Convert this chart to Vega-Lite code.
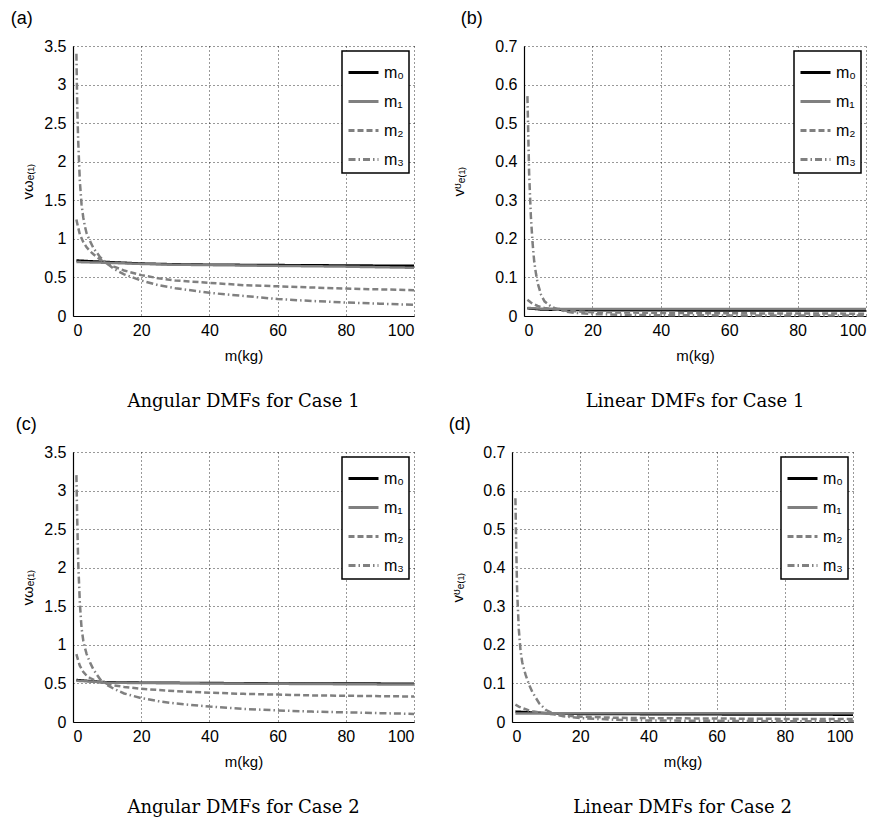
{
  "$schema": "https://vega.github.io/schema/vega-lite/v6.json",
  "padding": {"left": 10, "top": 10, "right": 5, "bottom": 0},
  "background": "white",
  "config": {
    "font": "Liberation Sans",
    "view": {"stroke": null},
    "axis": {
      "domainColor": "black", "domainWidth": 1.2,
      "labelColor": "black", "labelFontSize": 16, "labelFont": "Liberation Sans",
      "titleColor": "black", "titleFontSize": 15, "titleFontWeight": "normal", "titleFont": "Liberation Sans",
      "gridColor": "black", "gridDash": [1, 3], "gridOpacity": 0.8, "gridWidth": 1,
      "ticks": false
    },
    "axisX": {"labelPadding": 6, "titlePadding": 10},
    "axisY": {"labelPadding": 7},
    "legend": {
      "orient": "top-right", "offset": 5, "strokeColor": "black", "strokeWidth": 1.5,
      "fillColor": "white", "padding": 5, "title": null,
      "labelFontSize": 16, "labelColor": "black", "labelFont": "Liberation Sans",
      "symbolType": "stroke", "symbolStrokeWidth": 3, "symbolSize": 900, "rowPadding": 4
    },
    "title": {"color": "black", "fontWeight": "normal"}
  },
  "datasets": {
    "a": [
      {"s":"m₀","m":1,"v":0.72},{"s":"m₀","m":5,"v":0.71},{"s":"m₀","m":10,"v":0.70},{"s":"m₀","m":20,"v":0.68},{"s":"m₀","m":30,"v":0.67},{"s":"m₀","m":40,"v":0.665},{"s":"m₀","m":60,"v":0.66},{"s":"m₀","m":80,"v":0.655},{"s":"m₀","m":100,"v":0.65},
      {"s":"m₁","m":1,"v":0.70},{"s":"m₁","m":5,"v":0.695},{"s":"m₁","m":10,"v":0.69},{"s":"m₁","m":20,"v":0.675},{"s":"m₁","m":30,"v":0.665},{"s":"m₁","m":40,"v":0.66},{"s":"m₁","m":60,"v":0.65},{"s":"m₁","m":80,"v":0.64},{"s":"m₁","m":100,"v":0.625},
      {"s":"m₂","m":1,"v":1.25},{"s":"m₂","m":1.5,"v":1.15},{"s":"m₂","m":2,"v":1.06},{"s":"m₂","m":3,"v":0.96},{"s":"m₂","m":4,"v":0.89},{"s":"m₂","m":5,"v":0.84},{"s":"m₂","m":6,"v":0.80},{"s":"m₂","m":8,"v":0.73},{"s":"m₂","m":10,"v":0.68},{"s":"m₂","m":12,"v":0.64},{"s":"m₂","m":15,"v":0.59},{"s":"m₂","m":20,"v":0.53},{"s":"m₂","m":25,"v":0.49},{"s":"m₂","m":30,"v":0.46},{"s":"m₂","m":40,"v":0.43},{"s":"m₂","m":50,"v":0.40},{"s":"m₂","m":60,"v":0.385},{"s":"m₂","m":70,"v":0.37},{"s":"m₂","m":80,"v":0.355},{"s":"m₂","m":90,"v":0.345},{"s":"m₂","m":100,"v":0.335},
      {"s":"m₃","m":1,"v":3.4},{"s":"m₃","m":1.25,"v":2.7},{"s":"m₃","m":1.5,"v":2.3},{"s":"m₃","m":2,"v":1.75},{"s":"m₃","m":2.5,"v":1.45},{"s":"m₃","m":3,"v":1.28},{"s":"m₃","m":3.5,"v":1.16},{"s":"m₃","m":4,"v":1.07},{"s":"m₃","m":5,"v":0.97},{"s":"m₃","m":6,"v":0.88},{"s":"m₃","m":8,"v":0.76},{"s":"m₃","m":10,"v":0.68},{"s":"m₃","m":12,"v":0.61},{"s":"m₃","m":15,"v":0.54},{"s":"m₃","m":20,"v":0.46},{"s":"m₃","m":25,"v":0.40},{"s":"m₃","m":30,"v":0.36},{"s":"m₃","m":40,"v":0.30},{"s":"m₃","m":50,"v":0.26},{"s":"m₃","m":60,"v":0.22},{"s":"m₃","m":70,"v":0.195},{"s":"m₃","m":80,"v":0.175},{"s":"m₃","m":90,"v":0.16},{"s":"m₃","m":100,"v":0.145}
    ],
    "b": [
      {"s":"m₀","m":1,"v":0.020},{"s":"m₀","m":5,"v":0.017},{"s":"m₀","m":10,"v":0.016},{"s":"m₀","m":20,"v":0.015},{"s":"m₀","m":50,"v":0.0145},{"s":"m₀","m":100,"v":0.014},
      {"s":"m₁","m":1,"v":0.021},{"s":"m₁","m":5,"v":0.019},{"s":"m₁","m":10,"v":0.0185},{"s":"m₁","m":20,"v":0.018},{"s":"m₁","m":50,"v":0.018},{"s":"m₁","m":100,"v":0.018},
      {"s":"m₂","m":1,"v":0.042},{"s":"m₂","m":2,"v":0.035},{"s":"m₂","m":3,"v":0.030},{"s":"m₂","m":4,"v":0.026},{"s":"m₂","m":5,"v":0.023},{"s":"m₂","m":6,"v":0.021},{"s":"m₂","m":8,"v":0.018},{"s":"m₂","m":10,"v":0.016},{"s":"m₂","m":12,"v":0.014},{"s":"m₂","m":15,"v":0.012},{"s":"m₂","m":20,"v":0.010},{"s":"m₂","m":30,"v":0.009},{"s":"m₂","m":40,"v":0.008},{"s":"m₂","m":60,"v":0.007},{"s":"m₂","m":80,"v":0.0065},{"s":"m₂","m":100,"v":0.006},
      {"s":"m₃","m":1,"v":0.57},{"s":"m₃","m":1.25,"v":0.47},{"s":"m₃","m":1.5,"v":0.37},{"s":"m₃","m":2,"v":0.26},{"s":"m₃","m":2.5,"v":0.19},{"s":"m₃","m":3,"v":0.14},{"s":"m₃","m":3.5,"v":0.11},{"s":"m₃","m":4,"v":0.085},{"s":"m₃","m":5,"v":0.055},{"s":"m₃","m":6,"v":0.038},{"s":"m₃","m":8,"v":0.024},{"s":"m₃","m":10,"v":0.017},{"s":"m₃","m":12,"v":0.012},{"s":"m₃","m":15,"v":0.008},{"s":"m₃","m":20,"v":0.005},{"s":"m₃","m":30,"v":0.003},{"s":"m₃","m":40,"v":0.002},{"s":"m₃","m":60,"v":0.0015},{"s":"m₃","m":80,"v":0.001},{"s":"m₃","m":100,"v":0.001}
    ],
    "c": [
      {"s":"m₀","m":1,"v":0.545},{"s":"m₀","m":5,"v":0.53},{"s":"m₀","m":10,"v":0.515},{"s":"m₀","m":20,"v":0.51},{"s":"m₀","m":40,"v":0.505},{"s":"m₀","m":60,"v":0.50},{"s":"m₀","m":80,"v":0.50},{"s":"m₀","m":100,"v":0.495},
      {"s":"m₁","m":1,"v":0.535},{"s":"m₁","m":5,"v":0.525},{"s":"m₁","m":10,"v":0.51},{"s":"m₁","m":20,"v":0.505},{"s":"m₁","m":40,"v":0.50},{"s":"m₁","m":60,"v":0.495},{"s":"m₁","m":80,"v":0.49},{"s":"m₁","m":100,"v":0.485},
      {"s":"m₂","m":1,"v":0.88},{"s":"m₂","m":1.5,"v":0.80},{"s":"m₂","m":2,"v":0.73},{"s":"m₂","m":3,"v":0.65},{"s":"m₂","m":4,"v":0.60},{"s":"m₂","m":5,"v":0.57},{"s":"m₂","m":6,"v":0.55},{"s":"m₂","m":8,"v":0.515},{"s":"m₂","m":10,"v":0.495},{"s":"m₂","m":12,"v":0.475},{"s":"m₂","m":15,"v":0.455},{"s":"m₂","m":20,"v":0.43},{"s":"m₂","m":30,"v":0.40},{"s":"m₂","m":40,"v":0.38},{"s":"m₂","m":50,"v":0.365},{"s":"m₂","m":60,"v":0.355},{"s":"m₂","m":70,"v":0.345},{"s":"m₂","m":80,"v":0.34},{"s":"m₂","m":90,"v":0.335},{"s":"m₂","m":100,"v":0.33},
      {"s":"m₃","m":1,"v":3.2},{"s":"m₃","m":1.25,"v":2.6},{"s":"m₃","m":1.5,"v":2.1},{"s":"m₃","m":2,"v":1.55},{"s":"m₃","m":2.5,"v":1.22},{"s":"m₃","m":3,"v":1.06},{"s":"m₃","m":3.5,"v":0.96},{"s":"m₃","m":4,"v":0.88},{"s":"m₃","m":5,"v":0.77},{"s":"m₃","m":6,"v":0.68},{"s":"m₃","m":8,"v":0.55},{"s":"m₃","m":10,"v":0.48},{"s":"m₃","m":12,"v":0.43},{"s":"m₃","m":15,"v":0.37},{"s":"m₃","m":20,"v":0.31},{"s":"m₃","m":25,"v":0.27},{"s":"m₃","m":30,"v":0.24},{"s":"m₃","m":40,"v":0.20},{"s":"m₃","m":50,"v":0.17},{"s":"m₃","m":60,"v":0.15},{"s":"m₃","m":70,"v":0.135},{"s":"m₃","m":80,"v":0.125},{"s":"m₃","m":90,"v":0.115},{"s":"m₃","m":100,"v":0.105}
    ],
    "d": [
      {"s":"m₀","m":1,"v":0.027},{"s":"m₀","m":5,"v":0.025},{"s":"m₀","m":10,"v":0.023},{"s":"m₀","m":20,"v":0.021},{"s":"m₀","m":50,"v":0.020},{"s":"m₀","m":100,"v":0.019},
      {"s":"m₁","m":1,"v":0.022},{"s":"m₁","m":5,"v":0.022},{"s":"m₁","m":10,"v":0.0225},{"s":"m₁","m":20,"v":0.023},{"s":"m₁","m":50,"v":0.023},{"s":"m₁","m":100,"v":0.023},
      {"s":"m₂","m":1,"v":0.045},{"s":"m₂","m":2,"v":0.040},{"s":"m₂","m":3,"v":0.036},{"s":"m₂","m":4,"v":0.033},{"s":"m₂","m":5,"v":0.030},{"s":"m₂","m":6,"v":0.028},{"s":"m₂","m":8,"v":0.025},{"s":"m₂","m":10,"v":0.022},{"s":"m₂","m":12,"v":0.020},{"s":"m₂","m":15,"v":0.017},{"s":"m₂","m":20,"v":0.014},{"s":"m₂","m":30,"v":0.011},{"s":"m₂","m":40,"v":0.010},{"s":"m₂","m":60,"v":0.009},{"s":"m₂","m":80,"v":0.008},{"s":"m₂","m":100,"v":0.008},
      {"s":"m₃","m":1,"v":0.58},{"s":"m₃","m":1.25,"v":0.45},{"s":"m₃","m":1.5,"v":0.34},{"s":"m₃","m":2,"v":0.24},{"s":"m₃","m":2.5,"v":0.185},{"s":"m₃","m":3,"v":0.155},{"s":"m₃","m":3.5,"v":0.138},{"s":"m₃","m":4,"v":0.122},{"s":"m₃","m":5,"v":0.097},{"s":"m₃","m":6,"v":0.077},{"s":"m₃","m":8,"v":0.048},{"s":"m₃","m":10,"v":0.031},{"s":"m₃","m":12,"v":0.022},{"s":"m₃","m":15,"v":0.015},{"s":"m₃","m":20,"v":0.010},{"s":"m₃","m":30,"v":0.006},{"s":"m₃","m":40,"v":0.004},{"s":"m₃","m":60,"v":0.003},{"s":"m₃","m":80,"v":0.002},{"s":"m₃","m":100,"v":0.002}
    ]
  },
  "resolve": {"scale": {"color": "independent", "strokeDash": "independent"}, "legend": {"color": "independent", "strokeDash": "independent"}},
  "spacing": 5,
  "vconcat": [
    {
      "spacing": 32,
      "hconcat": [
        {
          "title": {"text": "(a)", "anchor": "start", "frame": "bounds", "fontSize": 18, "dx": -10, "offset": 10},
          "resolve": {"scale": {"color": "independent", "strokeDash": "independent"}, "legend": {"color": "independent", "strokeDash": "independent"}},
          "vconcat": [{
            "width": 341, "height": 270,
            "data": {"name": "a"},
            "title": {"text": "Angular DMFs for Case 1", "orient": "bottom", "font": "DejaVu Serif", "fontSize": 18, "offset": 30, "anchor": "middle", "frame": "group"},
            "mark": {"type": "line", "strokeWidth": 2.5, "strokeCap": "butt"},
            "encoding": {
              "x": {"field": "m", "type": "quantitative", "scale": {"domain": [0, 100], "nice": false}, "axis": {"title": "m(kg)", "values": [0, 20, 40, 60, 80, 100]}},
              "y": {"field": "v", "type": "quantitative", "scale": {"domain": [0, 3.5], "nice": false}, "axis": {"title": "vωₑ₍₁₎", "format": "~g", "values": [0, 0.5, 1, 1.5, 2, 2.5, 3, 3.5], "titlePadding": 8}},
              "color": {"field": "s", "type": "nominal", "scale": {"domain": ["m₀", "m₁", "m₂", "m₃"], "range": ["#000000", "#808080", "#808080", "#808080"]}},
              "strokeDash": {"field": "s", "type": "nominal", "scale": {"domain": ["m₀", "m₁", "m₂", "m₃"], "range": [[1, 0], [1, 0], [6, 3], [7, 3, 1.5, 3]]}}
            }
          }]
        },
        {
          "title": {"text": "(b)", "anchor": "start", "frame": "bounds", "fontSize": 18, "dx": 9, "offset": 10},
          "resolve": {"scale": {"color": "independent", "strokeDash": "independent"}, "legend": {"color": "independent", "strokeDash": "independent"}},
          "vconcat": [{
            "width": 342, "height": 270,
            "data": {"name": "b"},
            "title": {"text": "Linear DMFs for Case 1", "orient": "bottom", "font": "DejaVu Serif", "fontSize": 18, "offset": 30, "anchor": "middle", "frame": "group"},
            "mark": {"type": "line", "strokeWidth": 2.5, "strokeCap": "butt"},
            "encoding": {
              "x": {"field": "m", "type": "quantitative", "scale": {"domain": [0, 100], "nice": false}, "axis": {"title": "m(kg)", "values": [0, 20, 40, 60, 80, 100]}},
              "y": {"field": "v", "type": "quantitative", "scale": {"domain": [0, 0.7], "nice": false}, "axis": {"title": "vᶷₑ₍₁₎", "format": "~g", "values": [0, 0.1, 0.2, 0.3, 0.4, 0.5, 0.6, 0.7], "titlePadding": 28}},
              "color": {"field": "s", "type": "nominal", "scale": {"domain": ["m₀", "m₁", "m₂", "m₃"], "range": ["#000000", "#808080", "#808080", "#808080"]}},
              "strokeDash": {"field": "s", "type": "nominal", "scale": {"domain": ["m₀", "m₁", "m₂", "m₃"], "range": [[1, 0], [1, 0], [6, 3], [7, 3, 1.5, 3]]}}
            }
          }]
        }
      ],
      "resolve": {"scale": {"color": "independent", "strokeDash": "independent"}, "legend": {"color": "independent", "strokeDash": "independent"}}
    },
    {
      "spacing": 29,
      "hconcat": [
        {
          "title": {"text": "(c)", "anchor": "start", "frame": "bounds", "fontSize": 18, "dx": -5, "offset": 10},
          "resolve": {"scale": {"color": "independent", "strokeDash": "independent"}, "legend": {"color": "independent", "strokeDash": "independent"}},
          "vconcat": [{
            "width": 341, "height": 270,
            "data": {"name": "c"},
            "title": {"text": "Angular DMFs for Case 2", "orient": "bottom", "font": "DejaVu Serif", "fontSize": 18, "offset": 30, "anchor": "middle", "frame": "group"},
            "mark": {"type": "line", "strokeWidth": 2.5, "strokeCap": "butt"},
            "encoding": {
              "x": {"field": "m", "type": "quantitative", "scale": {"domain": [0, 100], "nice": false}, "axis": {"title": "m(kg)", "values": [0, 20, 40, 60, 80, 100]}},
              "y": {"field": "v", "type": "quantitative", "scale": {"domain": [0, 3.5], "nice": false}, "axis": {"title": "vωₑ₍₁₎", "format": "~g", "values": [0, 0.5, 1, 1.5, 2, 2.5, 3, 3.5], "titlePadding": 8}},
              "color": {"field": "s", "type": "nominal", "scale": {"domain": ["m₀", "m₁", "m₂", "m₃"], "range": ["#000000", "#808080", "#808080", "#808080"]}},
              "strokeDash": {"field": "s", "type": "nominal", "scale": {"domain": ["m₀", "m₁", "m₂", "m₃"], "range": [[1, 0], [1, 0], [6, 3], [7, 3, 1.5, 3]]}}
            }
          }]
        },
        {
          "title": {"text": "(d)", "anchor": "start", "frame": "bounds", "fontSize": 18, "dx": -2, "offset": 10},
          "resolve": {"scale": {"color": "independent", "strokeDash": "independent"}, "legend": {"color": "independent", "strokeDash": "independent"}},
          "vconcat": [{
            "width": 341, "height": 270,
            "data": {"name": "d"},
            "title": {"text": "Linear DMFs for Case 2", "orient": "bottom", "font": "DejaVu Serif", "fontSize": 18, "offset": 30, "anchor": "middle", "frame": "group"},
            "mark": {"type": "line", "strokeWidth": 2.5, "strokeCap": "butt"},
            "encoding": {
              "x": {"field": "m", "type": "quantitative", "scale": {"domain": [0, 100], "nice": false}, "axis": {"title": "m(kg)", "values": [0, 20, 40, 60, 80, 100]}},
              "y": {"field": "v", "type": "quantitative", "scale": {"domain": [0, 0.7], "nice": false}, "axis": {"title": "vᶷₑ₍₁₎", "format": "~g", "values": [0, 0.1, 0.2, 0.3, 0.4, 0.5, 0.6, 0.7], "titlePadding": 17}},
              "color": {"field": "s", "type": "nominal", "scale": {"domain": ["m₀", "m₁", "m₂", "m₃"], "range": ["#000000", "#808080", "#808080", "#808080"]}},
              "strokeDash": {"field": "s", "type": "nominal", "scale": {"domain": ["m₀", "m₁", "m₂", "m₃"], "range": [[1, 0], [1, 0], [6, 3], [7, 3, 1.5, 3]]}}
            }
          }]
        }
      ],
      "resolve": {"scale": {"color": "independent", "strokeDash": "independent"}, "legend": {"color": "independent", "strokeDash": "independent"}}
    }
  ]
}
